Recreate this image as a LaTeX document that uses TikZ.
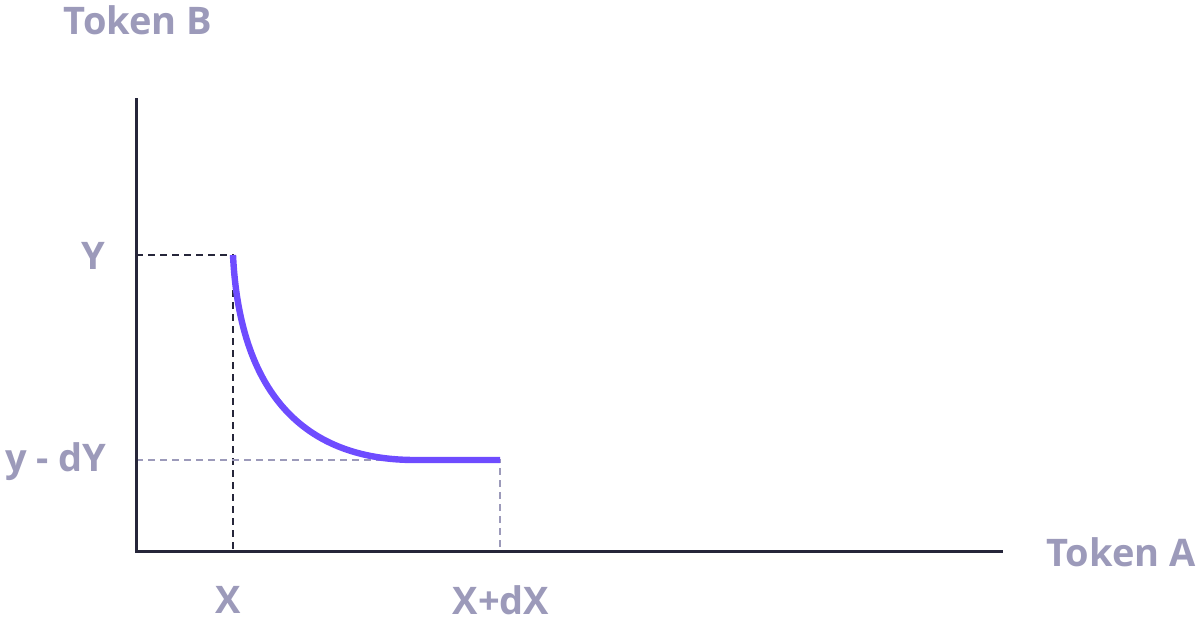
\documentclass[tikz,border=0pt]{standalone}
\usepackage{fontspec}
\setmainfont{Open Sans}
\usetikzlibrary{positioning}
\definecolor{axiscol}{HTML}{26263A}
\definecolor{labelcol}{HTML}{9C9ABA}
\definecolor{curvecol}{HTML}{6E4CFF}
\tikzset{
  lbl/.style={text=labelcol, font=\fontsize{19}{22}\selectfont\bfseries, inner sep=0pt},
  axis/.style={draw=axiscol, line width=1.5pt},
  guide/.style={line width=1.4pt, dash pattern=on 3.5pt off 2.5pt},
}
\begin{document}
\begin{tikzpicture}[x=0.5pt,y=-0.5pt]
   \useasboundingbox (0,0) rectangle (1200,621);
   \coordinate (o) at (136,551);
   \coordinate (ytop) at (136,98);
   \coordinate (xend) at (1003,551);
   \coordinate (p1) at (233,255);
   \coordinate (p2) at (500,460);
   \coordinate (yY) at (136,255);
   \coordinate (ydY) at (136,460);
   \coordinate (xX) at (233,551);
   \coordinate (xdX) at (500,551);
   % guides
   \draw[guide, draw=axiscol] (yY) -- (p1) -- (xX);
   \draw[guide, draw=labelcol] (ydY) -- (p2) -- (xdX);
   % axes
   \draw[axis] (ytop) -- (o) -- (xend);
   % curve
   \draw[curvecol, line width=3.2pt] (p1) .. controls (240,400) and (310,460) .. (415,460) -- (p2);
   % labels
   \node[lbl] (tokb) at (138,20) {Token B};
   \node[lbl] (toka) at (1121,552) {Token A};
   \node[lbl] (ly) at (93,256) {Y};
   \node[lbl] (ldy) at (56,462) {y - dY};
   \node[lbl] (lx) at (228,600) {X};
   \node[lbl] (ldx) at (501,600) {X+dX};
\end{tikzpicture}
\end{document}
